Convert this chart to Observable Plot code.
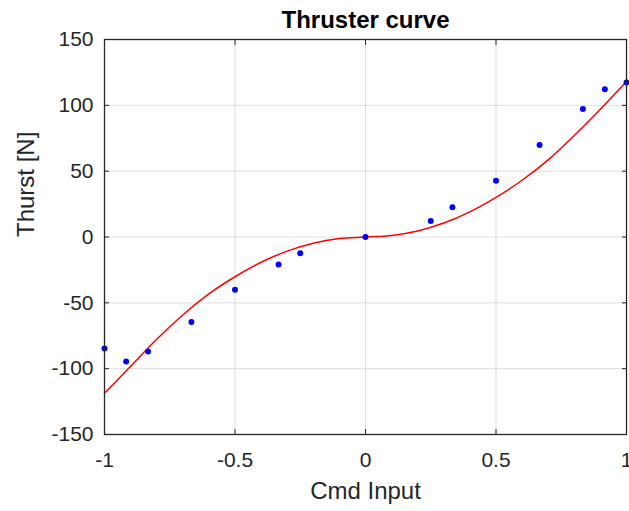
<!DOCTYPE html>
<html>
<head>
<meta charset="utf-8">
<script src="https://cdn.jsdelivr.net/npm/d3@7"></script>
<script src="https://cdn.jsdelivr.net/npm/@observablehq/plot@0.6"></script>
<style>
  html, body { margin: 0; padding: 0; background: #ffffff; }
  #chart svg { display: block; }
</style>
</head>
<body>
<div id="chart"></div>
<script>
// Measured thrust for each command input
const cmdInput = [-1, -0.917, -0.833, -0.667, -0.5, -0.333, -0.25, 0, 0.25, 0.333, 0.5, 0.667, 0.833, 0.917, 1];
const thrust = [-84.7, -94.5, -87, -64.6, -40, -20.9, -12.4, 0, 12.1, 22.6, 42.7, 69.8, 97.2, 112.3, 117.3];

// Fitted thruster curve, sampled along the command range
const fitInput = [-1, -0.9, -0.8, -0.7, -0.6, -0.5, -0.4, -0.3, -0.2, -0.1, 0, 0.1, 0.2, 0.3, 0.4, 0.5, 0.6, 0.7, 0.8, 0.9, 1];
const fitThrust = [-118.7, -98.2, -77.7, -59.2, -43.2, -30.2, -19.2, -10.7, -4.7, -1.2, 0, 1.2, 4.6, 10.6, 19.1, 30.1, 43.1, 58.6, 77.1, 97.1, 118.1];

// Axis ticks
const xTicks = [-1, -0.5, 0, 0.5, 1];
const yTicks = [-150, -100, -50, 0, 50, 100, 150];

const samples = cmdInput.map((x, i) => ({x, y: thrust[i]}));
const fit = fitInput.map((x, i) => ({x, y: fitThrust[i]}));

const ink = "#262626";
const fmt = d => String(d);

const chart = Plot.plot({
  width: 629,
  height: 511,
  marginLeft: 104,
  marginRight: 3,
  marginTop: 39,
  marginBottom: 77,
  style: {
    fontFamily: "'Liberation Sans', Arial, Helvetica, sans-serif",
    fontSize: "21px",
    color: ink,
    background: "#ffffff"
  },
  x: {domain: [-1, 1]},
  y: {domain: [-150, 150]},
  marks: [
    // grid
    Plot.gridX(xTicks, {stroke: ink, strokeOpacity: 0.15, strokeWidth: 1}),
    Plot.gridY(yTicks, {stroke: ink, strokeOpacity: 0.15, strokeWidth: 1}),

    // fitted curve and measurements
    Plot.line(fit, {x: "x", y: "y", stroke: "#ff0000", strokeWidth: 1.5, curve: "monotone-x"}),
    Plot.dot(samples, {x: "x", y: "y", r: 3, fill: "#0000ff", stroke: "none"}),

    // box
    Plot.frame({stroke: ink, strokeWidth: 1.3}),

    // inward tick marks on all four sides
    Plot.axisX(xTicks, {anchor: "bottom", tickSize: 5, dy: -5, tickFormat: () => "", label: null, stroke: ink}),
    Plot.axisX(xTicks, {anchor: "top", tickSize: 5, dy: 5, tickFormat: () => "", label: null, stroke: ink}),
    Plot.axisY(yTicks, {anchor: "left", tickSize: 5, dx: 5, tickFormat: () => "", label: null, stroke: ink}),
    Plot.axisY(yTicks, {anchor: "right", tickSize: 5, dx: -5, tickFormat: () => "", label: null, stroke: ink}),

    // tick labels
    Plot.axisX(xTicks, {anchor: "bottom", tickSize: 0, tickPadding: 18, tickFormat: fmt, label: null, fill: ink}),
    Plot.axisY(yTicks, {anchor: "left", tickSize: 0, tickPadding: 11, tickFormat: fmt, label: null, fill: ink}),

    // axis titles and chart title
    Plot.text(["Cmd Input"], {frameAnchor: "bottom", dy: 64, fontSize: 24, fill: ink}),
    Plot.text(["Thurst [N]"], {frameAnchor: "left", dx: -78, rotate: -90, fontSize: 24, fill: ink}),
    Plot.text(["Thruster curve"], {frameAnchor: "top", dy: -29, fontSize: 24, fontWeight: "bold", fill: "#000000"})
  ]
});

document.getElementById("chart").appendChild(chart);
</script>
</body>
</html>
